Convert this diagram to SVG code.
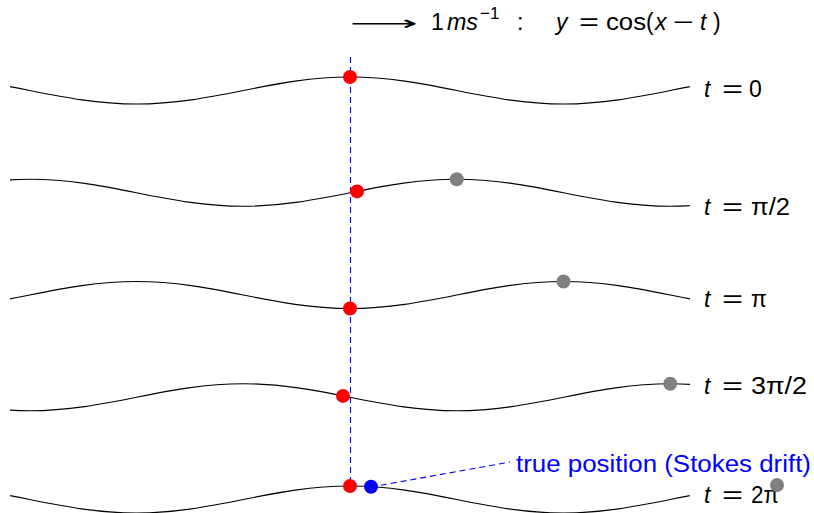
<svg xmlns="http://www.w3.org/2000/svg" xmlns:xlink="http://www.w3.org/1999/xlink" width="814" height="513" viewBox="0 0 814 513">
<style>
.wave{fill:none;stroke:#000;stroke-width:1.2}
.lbl{font-family:"Liberation Sans","DejaVu Sans",sans-serif;font-size:23px;fill:#000}
.it{font-style:italic}
.red{fill:#ff0000}
.grey{fill:#808080}
.blue{fill:#0000ff}
.dash{fill:none;stroke:#0000ff;stroke-width:1.1;stroke-dasharray:6,4}
.note{font-family:"Liberation Sans","DejaVu Sans",sans-serif;font-size:23px;fill:#0000ff}
</style>
<defs>
<path id="w" d="M-504,-13.5 c38.63,0 71.94,6.58 106.75,13.5 c34.81,6.92 68.12,13.5 106.75,13.5 c38.63,0 71.94,-6.58 106.75,-13.5 c34.81,-6.92 68.12,-13.5 106.75,-13.5 c38.63,0 71.94,6.58 106.75,13.5 c34.81,6.92 68.12,13.5 106.75,13.5 c38.63,0 71.94,-6.58 106.75,-13.5 c34.81,-6.92 68.12,-13.5 106.75,-13.5 c38.63,0 71.94,6.58 106.75,13.5 c34.81,6.92 68.12,13.5 106.75,13.5 c38.63,0 71.94,-6.58 106.75,-13.5 c34.81,-6.92 68.12,-13.5 106.75,-13.5"/>
<clipPath id="cl"><rect x="10" y="0" width="680" height="513"/></clipPath>
</defs>
<rect width="814" height="513" fill="#fff"/>

<g id="title" class="lbl">
<text x="350" y="30" textLength="68" lengthAdjust="spacingAndGlyphs" font-family="DejaVu Sans, sans-serif" font-size="20">⟶</text>
<text x="431" y="30">1</text>
<text x="447" y="30" class="it" textLength="31" lengthAdjust="spacingAndGlyphs">ms</text>
<text x="480" y="19" font-size="17">−1</text>
<text x="517" y="30">:</text>
<text x="556" y="30" class="it">y</text>
<text x="579" y="30" textLength="20" lengthAdjust="spacingAndGlyphs">=</text>
<text x="606" y="30" textLength="40" lengthAdjust="spacingAndGlyphs">cos</text>
<text x="646" y="30">(</text>
<text x="655" y="30" class="it">x</text>
<text x="673" y="30" textLength="21" lengthAdjust="spacingAndGlyphs">−</text>
<text x="700" y="30" class="it">t</text>
<text x="713" y="30">)</text>
</g>

<g id="connectors">
<line class="dash" x1="350.5" y1="57" x2="350.5" y2="496"/>
<line class="dash" x1="371" y1="487" x2="510" y2="462"/>
</g>

<g id="t0">
<g clip-path="url(#cl)"><use xlink:href="#w" href="#w" class="wave" transform="translate(0,90.5)"/></g>
<text class="lbl" y="97"><tspan x="704" class="it">t</tspan></text>
<text class="lbl" x="722" y="97" textLength="21" lengthAdjust="spacingAndGlyphs">=</text>
<text class="lbl" x="749" y="97">0</text>
<circle class="red" cx="350" cy="77" r="7"/>
</g>

<g id="t1">
<g clip-path="url(#cl)"><use xlink:href="#w" href="#w" class="wave" transform="translate(106.75,192.75)"/></g>
<text class="lbl" y="215"><tspan x="704" class="it">t</tspan></text>
<text class="lbl" x="722" y="215" textLength="21" lengthAdjust="spacingAndGlyphs">=</text>
<text class="lbl" x="751" y="215" textLength="39" lengthAdjust="spacingAndGlyphs">π/2</text>
<circle class="grey" cx="456.75" cy="179.25" r="7"/>
<circle class="red" cx="357" cy="191.4" r="7"/>
</g>

<g id="t2">
<g clip-path="url(#cl)"><use xlink:href="#w" href="#w" class="wave" transform="translate(213.5,295)"/></g>
<text class="lbl" y="306.5"><tspan x="704" class="it">t</tspan></text>
<text class="lbl" x="722" y="306.5" textLength="21" lengthAdjust="spacingAndGlyphs">=</text>
<text class="lbl" x="751" y="306.5">π</text>
<circle class="grey" cx="563.5" cy="281.5" r="7"/>
<circle class="red" cx="350" cy="308.5" r="7"/>
</g>

<g id="t3">
<g clip-path="url(#cl)"><use xlink:href="#w" href="#w" class="wave" transform="translate(320.25,397.25)"/></g>
<text class="lbl" y="394"><tspan x="704" class="it">t</tspan></text>
<text class="lbl" x="722" y="394" textLength="21" lengthAdjust="spacingAndGlyphs">=</text>
<text class="lbl" x="751" y="394" textLength="56" lengthAdjust="spacingAndGlyphs">3π/2</text>
<circle class="grey" cx="670.25" cy="383.75" r="7"/>
<circle class="red" cx="343" cy="395.9" r="7"/>
</g>

<g id="t4">
<g clip-path="url(#cl)"><use xlink:href="#w" href="#w" class="wave" transform="translate(427,499.5)"/></g>
<text class="lbl" y="503"><tspan x="704" class="it">t</tspan></text>
<text class="lbl" x="722" y="503" textLength="21" lengthAdjust="spacingAndGlyphs">=</text>
<text class="lbl" x="751" y="503" textLength="28" lengthAdjust="spacingAndGlyphs">2π</text>
<circle class="red" cx="350" cy="486" r="7"/>
<circle class="blue" cx="371" cy="486.7" r="7"/>
<circle class="grey" cx="777" cy="485" r="7"/>
</g>

<g id="note">
<text class="note" x="516" y="472" textLength="295" lengthAdjust="spacingAndGlyphs">true position (Stokes drift)</text>
</g>
</svg>
